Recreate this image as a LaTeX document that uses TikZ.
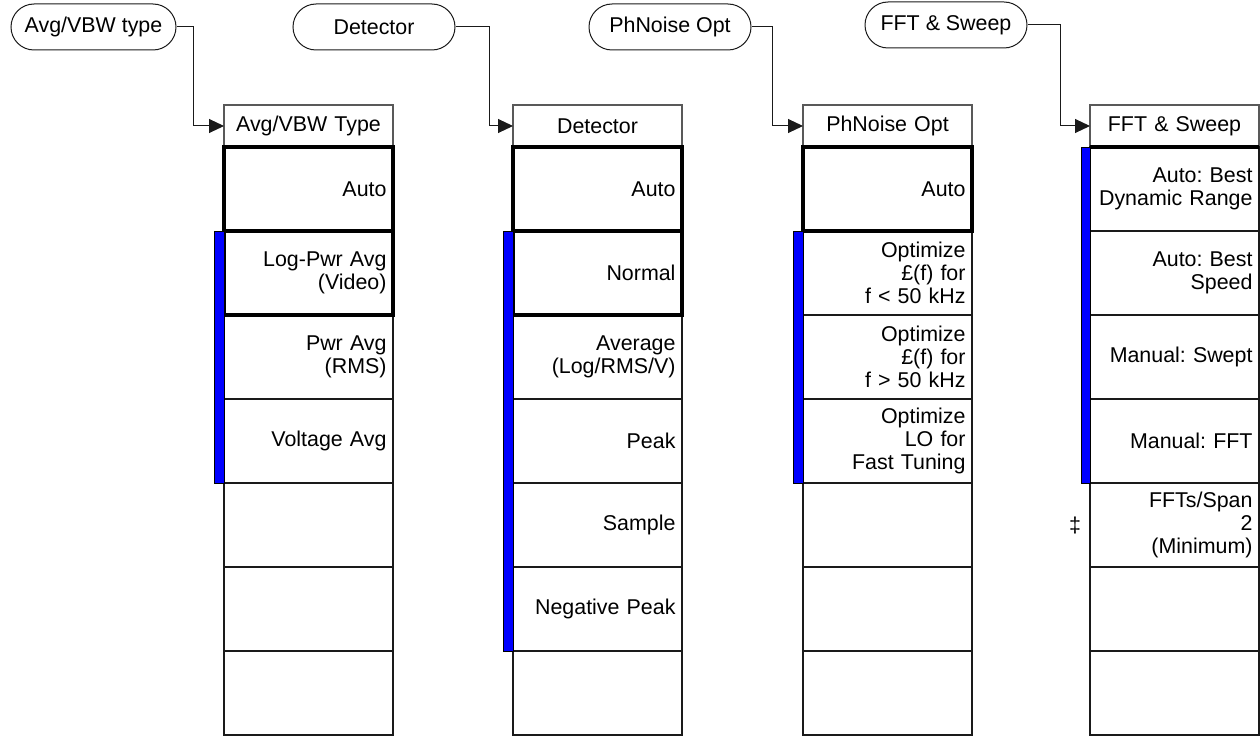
\documentclass[tikz,border=0pt]{standalone}
\usepackage{fontspec}
\setmainfont{Liberation Sans}
\usepackage{tikz}
\usetikzlibrary{arrows.meta,positioning,shapes.misc}
\definecolor{keyblue}{HTML}{0000FF}
\definecolor{rim}{HTML}{1A1A1A}
\frenchspacing
\tikzset{
  >={Triangle[length=7.5pt,width=7pt]},
  keyfont/.style={font=\fontsize{10.7}{11.6}\selectfont},
  key/.style={draw=rim,line width=0.6pt,outer sep=0pt,minimum width=84.5pt,minimum height=42pt,text width=78pt,inner xsep=3pt,inner ysep=0pt,align=right,keyfont},
  selkey/.style={key,draw=black,line width=1.6pt},
  hdr/.style={key,draw=black!65,minimum height=21pt,align=center},
  tab/.style={draw=rim,rounded rectangle,line width=0.5pt,minimum width=85pt,minimum height=23pt,inner sep=2pt,keyfont},
  bar/.style={fill=keyblue,draw=black,line width=0.4pt},
  arr/.style={->,draw=rim,line width=0.5pt},
}
\begin{document}
\begin{tikzpicture}[x=0.5pt,y=-0.5pt]
\useasboundingbox (0,0) rectangle (1260,738);
% menu tabs
\node[tab,minimum width=86.5pt] (avgTab) at (93.5,27) {Avg/VBW type};
\node[tab] (detTab) at (374,27) {Detector};
\node[tab] (phTab) at (670,27) {PhNoise Opt};
\node[tab] (fftTab) at (946,25) {FFT \& Sweep};
% Avg/VBW Type menu
\node[hdr,anchor=north west] (avgHd) at (224,105) {Avg/VBW Type};
\node[key,below=0pt of avgHd] (avg1) {};
\node[key,below=0pt of avg1] (avg2) {};
\node[key,below=0pt of avg2] (avg3) {Pwr Avg\\(RMS)};
\node[key,below=0pt of avg3] (avg4) {Voltage Avg};
\node[key,below=0pt of avg4] (avg5) {};
\node[key,below=0pt of avg5] (avg6) {};
\node[key,below=0pt of avg6] (avg7) {};
\node[selkey,at=(avg1)] {Auto};
\node[selkey,at=(avg2)] {Log-Pwr Avg\\(Video)};
% Detector menu
\node[hdr,anchor=north west] (detHd) at (513,105) {Detector};
\node[key,below=0pt of detHd] (det1) {};
\node[key,below=0pt of det1] (det2) {};
\node[key,below=0pt of det2] (det3) {Average\\(Log/RMS/V)};
\node[key,below=0pt of det3] (det4) {Peak};
\node[key,below=0pt of det4] (det5) {Sample};
\node[key,below=0pt of det5] (det6) {Negative Peak};
\node[key,below=0pt of det6] (det7) {};
\node[selkey,at=(det1)] {Auto};
\node[selkey,at=(det2)] {Normal};
% PhNoise Opt menu
\node[hdr,anchor=north west] (phHd) at (803,105) {PhNoise Opt};
\node[key,below=0pt of phHd] (ph1) {};
\node[key,below=0pt of ph1] (ph2) {Optimize\\£(f) for\\f < 50 kHz};
\node[key,below=0pt of ph2] (ph3) {Optimize\\£(f) for\\f > 50 kHz};
\node[key,below=0pt of ph3] (ph4) {Optimize\\LO for\\Fast Tuning};
\node[key,below=0pt of ph4] (ph5) {};
\node[key,below=0pt of ph5] (ph6) {};
\node[key,below=0pt of ph6] (ph7) {};
\node[selkey,at=(ph1)] {Auto};
% FFT & Sweep menu
\node[hdr,anchor=north west] (fftHd) at (1090,105) {FFT \& Sweep};
\node[key,below=0pt of fftHd] (fft1) {Auto: Best\\Dynamic Range};
\node[key,below=0pt of fft1] (fft2) {Auto: Best\\Speed};
\node[key,below=0pt of fft2] (fft3) {Manual: Swept};
\node[key,below=0pt of fft3] (fft4) {Manual: FFT};
\node[key,below=0pt of fft4] (fft5) {FFTs/Span\\2\\(Minimum)};
\node[key,below=0pt of fft5] (fft6) {};
\node[key,below=0pt of fft6] (fft7) {};
\draw[black,line width=1.6pt] (fft1.north west) -- (fft1.north east);
\node[keyfont,left=1pt of fft5] (fftMark) {‡};
% active ranges
\draw[bar] ([xshift=-5pt]avg2.north west) rectangle (avg4.south west);
\draw[bar] ([xshift=-5pt]det2.north west) rectangle (det6.south west);
\draw[bar] ([xshift=-5pt]ph2.north west) rectangle (ph4.south west);
\draw[bar] ([xshift=-4.5pt]fft1.north west) rectangle (fft4.south west);
% tab to menu
\draw[arr] (avgTab.east) -| ([xshift=-15.5pt]avgHd.west) -- (avgHd.west);
\draw[arr] (detTab.east) -| ([xshift=-12pt]detHd.west) -- (detHd.west);
\draw[arr] (phTab.east) -| ([xshift=-15.5pt]phHd.west) -- (phHd.west);
\draw[arr] (fftTab.east) -| ([xshift=-15pt]fftHd.west) -- (fftHd.west);
\end{tikzpicture}
\end{document}
